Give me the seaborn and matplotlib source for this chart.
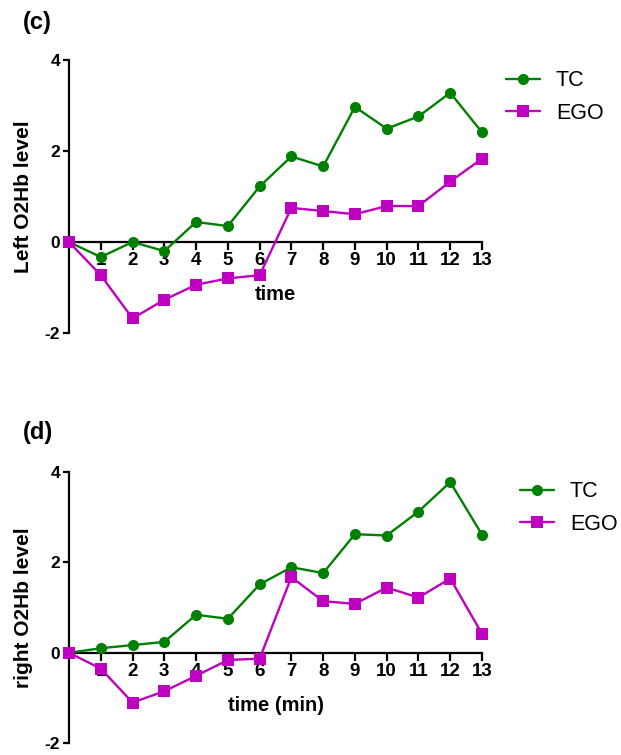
import matplotlib
matplotlib.use("Agg")
import matplotlib.pyplot as plt
import seaborn as sns
import pandas as pd
from matplotlib.lines import Line2D

# ---- data ----
time = list(range(14))
left_tc = [0, -0.33, 0.0, -0.20, 0.44, 0.35, 1.22, 1.88, 1.66, 2.97, 2.49, 2.76, 3.28, 2.41]
left_ego = [0, -0.73, -1.68, -1.27, -0.94, -0.80, -0.73, 0.75, 0.68, 0.61, 0.79, 0.79, 1.33, 1.83]
right_tc = [0, 0.10, 0.17, 0.24, 0.84, 0.75, 1.51, 1.89, 1.76, 2.62, 2.59, 3.12, 3.77, 2.61]
right_ego = [0, -0.35, -1.10, -0.85, -0.51, -0.16, -0.13, 1.67, 1.14, 1.08, 1.44, 1.22, 1.64, 0.42]
groups = ["TC", "EGO"]
xticks = list(range(1, 14))
xtick_labels = [str(v) for v in xticks]
yticks = [-2, 0, 2, 4]
panel_labels = ["(c)", "(d)"]
ylabels = ["Left O2Hb level", "right O2Hb level"]
xlabels = ["time", "time (min)"]

sns.set_theme(style="white")
plt.rcParams["font.family"] = ["Liberation Sans", "DejaVu Sans"]
plt.rcParams["axes.unicode_minus"] = False
for k in ("text.color", "axes.labelcolor", "xtick.color", "ytick.color"):
    plt.rcParams[k] = "black"

colors = {"TC": "#008000", "EGO": "#c000c0"}
markers = {"TC": "o", "EGO": "s"}
msizes = {"TC": 8, "EGO": 8.5}

fig = plt.figure(figsize=(6.21, 7.55), dpi=100)
W, H = 621, 755
axes_px = [(69, 482, 60, 333), (69, 482, 471.7, 743.3)]
panel_pos = [(23, 22), (23, 432)]
legend_pos = [(506, 81), (520, 492)]

datasets = [(left_tc, left_ego), (right_tc, right_ego)]

for i, ((tc, ego), (x0, x1, yt, yb)) in enumerate(zip(datasets, axes_px)):
    ax = fig.add_axes([x0 / W, 1 - yb / H, (x1 - x0) / W, (yb - yt) / H])
    df = pd.DataFrame({
        "time": time * 2,
        "value": tc + ego,
        "group": ["TC"] * len(time) + ["EGO"] * len(time),
    })
    for g in groups:
        sub = df[df["group"] == g]
        sns.lineplot(data=sub, x="time", y="value", color=colors[g],
                     marker=markers[g], markersize=msizes[g], markeredgewidth=0,
                     linewidth=1.7, ax=ax, legend=False, clip_on=False, zorder=3)
    ax.set_xlim(0, 13)
    ax.set_ylim(-2, 4)
    ax.spines["top"].set_visible(False)
    ax.spines["right"].set_visible(False)
    ax.spines["bottom"].set_position(("data", 0))
    for s in ("left", "bottom"):
        ax.spines[s].set_linewidth(1.6)
        ax.spines[s].set_color("black")
        ax.spines[s].set_zorder(2)
    ax.set_xticks(xticks)
    ax.set_xticklabels(xtick_labels)
    ax.set_yticks(yticks)
    ax.tick_params(axis="x", direction="out", length=5.5, width=1.6, color="black",
                   labelsize=13.5, pad=2, bottom=True, labelcolor="black")
    ax.tick_params(axis="y", direction="out", length=4.5, width=1.6, color="black",
                   labelsize=12.5, pad=2, left=True, labelcolor="black")
    for lbl in ax.get_xticklabels() + ax.get_yticklabels():
        lbl.set_fontweight("bold")
    ax.set_xlabel(xlabels[i], fontsize=14.5, fontweight="bold", labelpad=11.5, color="black")
    ax.set_ylabel(ylabels[i], fontsize=15, fontweight="bold", labelpad=8, color="black")
    ax.grid(False)
    fig.text(panel_pos[i][0] / W, 1 - panel_pos[i][1] / H, panel_labels[i],
             fontsize=17, fontweight="bold", va="center", ha="left", color="black")
    handles = [Line2D([], [], color=colors[g], marker=markers[g], markersize=msizes[g],
                      markeredgewidth=0, linewidth=1.7) for g in groups]
    fig.legend(handles, groups, loc="center left",
               bbox_to_anchor=(legend_pos[i][0] / W, 1 - (legend_pos[i][1] + 16) / H),
               frameon=False, fontsize=15.5, handlelength=1.6, handletextpad=0.72,
               labelspacing=0.52, borderaxespad=0, borderpad=0, labelcolor="black")

fig.savefig("out.png", dpi=100, facecolor="white")
